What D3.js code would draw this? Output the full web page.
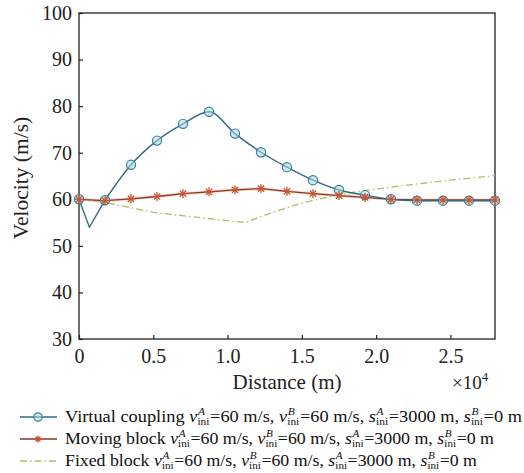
<!DOCTYPE html>
<html><head><meta charset="utf-8">
<script src="https://cdn.jsdelivr.net/npm/d3@7"></script>
<style>body{margin:0;background:#fff}svg{display:block}</style>
</head><body>
<svg id="chart" width="524" height="473"></svg>
<script>
// ---- data ----
const markerDist = [0,1750,3500,5250,7000,8750,10500,12250,14000,15750,17500,19250,21000,22750,24500,26250,28000];
const vcDist = [0,700,1750,3500,5250,7000,8750,10500,12250,14000,15750,17500,19250,21000,22750,24500,26250,28000];
const vcVel  = [60,54.0,59.8,67.4,72.6,76.2,78.8,74.1,70.1,66.9,64.1,62.0,60.9,60.0,59.7,59.7,59.7,59.7];
const vcMarkers = [60,59.8,67.4,72.6,76.2,78.8,74.1,70.1,66.9,64.1,62.0,60.9,60.0,59.7,59.7,59.7,59.7];
const mbVel  = [60,59.7,60.1,60.6,61.2,61.6,62.0,62.3,61.7,61.2,60.8,60.4,60.0,59.85,59.85,59.85,59.85];
const fbDist = [0,1750,5000,10000,11200,12500,15000,17500,19250,21000,23300,25000,28000];
const fbVel  = [60,59.3,57.2,55.4,55.0,56.6,59.2,61.0,61.9,62.6,63.5,64.1,65.1];
const xTicks = [0,5000,10000,15000,20000,25000];
const xTickLabels = ["0","0.5","1.0","1.5","2.0","2.5"];
const yTicks = [30,40,50,60,70,80,90,100];
const legendNames = ["Virtual coupling ","Moving block ","Fixed block "];

// ---- layout ----
const svg = d3.select("#chart");
const L=79, R=495, T=13, B=339;
const x = d3.scaleLinear().domain([0,28000]).range([L,R]);
const y = d3.scaleLinear().domain([30,100]).range([B,T]);
const font = "'Liberation Serif', serif";
const axisCol = "#222";

svg.append("rect").attr("x",L).attr("y",T).attr("width",R-L).attr("height",B-T)
  .attr("fill","none").attr("stroke",axisCol).attr("stroke-width",1.3);

const xAxis = d3.axisBottom(x).tickValues(xTicks).tickSize(-4).tickPadding(10)
  .tickFormat((d,i)=>xTickLabels[i]);
const gx = svg.append("g").attr("transform",`translate(0,${B})`).call(xAxis);
const yAxis = d3.axisLeft(y).tickValues(yTicks).tickSize(-4).tickPadding(7);
const gy = svg.append("g").attr("transform",`translate(${L},0)`).call(yAxis);
[gx,gy].forEach(g=>{
  g.attr("font-family",font).attr("font-size",20);
  g.select(".domain").remove();
  g.selectAll("line").attr("stroke",axisCol).attr("stroke-width",1.2);
  g.selectAll("text").style("font-family",font).style("font-size","20px").attr("fill","#222");
});

svg.append("text").attr("x",(L+R)/2).attr("y",389).attr("text-anchor","middle")
  .style("font-family",font).style("font-size","21px").attr("fill","#222").text("Distance (m)");
const ex = svg.append("text").attr("x",452).attr("y",389)
  .style("font-family",font).style("font-size","19px").attr("fill","#222");
ex.append("tspan").text("×10");
ex.append("tspan").attr("dy",-8).style("font-size","13px").text("4");
svg.append("text").attr("transform",`translate(28,${(T+B)/2+2}) rotate(-90)`)
  .attr("text-anchor","middle").style("font-family",font).style("font-size","21.5px").attr("fill","#222")
  .text("Velocity (m/s)");

// ---- series ----
const vcLine="#2f6c82", vcFill="#a9d6e3", vcStroke="#3b7f96";
const mbLine="#86392a", mbMark="#c9532f";
const fbLine="#b9b86a";

const lineGen = d3.line().x(d=>x(d[0])).y(d=>y(d[1]));
const plot = svg.append("g");

plot.append("path").datum(fbDist.map((d,i)=>[d,fbVel[i]]))
  .attr("d",lineGen.curve(d3.curveLinear)).attr("fill","none")
  .attr("stroke",fbLine).attr("stroke-width",1.3).attr("stroke-dasharray","7,3,1.5,3");

const mbPts = markerDist.map((d,i)=>[d,mbVel[i]]);
plot.append("path").datum(mbPts)
  .attr("d",lineGen.curve(d3.curveLinear)).attr("fill","none")
  .attr("stroke","#f3b79b").attr("stroke-width",3).attr("opacity",0.6);
plot.append("path").datum(mbPts)
  .attr("d",lineGen.curve(d3.curveLinear)).attr("fill","none")
  .attr("stroke",mbLine).attr("stroke-width",1.3);

const vcPts = vcDist.map((d,i)=>[d,vcVel[i]]);
plot.append("path").datum(vcPts.slice(0,3))
  .attr("d",lineGen.curve(d3.curveLinear)).attr("fill","none")
  .attr("stroke",vcLine).attr("stroke-width",1.4);
plot.append("path").datum(vcPts.slice(2))
  .attr("d",lineGen.curve(d3.curveMonotoneX)).attr("fill","none")
  .attr("stroke",vcLine).attr("stroke-width",1.4);
plot.selectAll(".vcm").data(markerDist.map((d,i)=>[d,vcMarkers[i]])).join("circle")
  .attr("cx",d=>x(d[0])).attr("cy",d=>y(d[1])).attr("r",4.6)
  .attr("fill",vcFill).attr("fill-opacity",0.55).attr("stroke",vcStroke).attr("stroke-width",1.2);

function drawStar(g,cx,cy,sz){
  const s = sz/2;
  [[ -s,0,s,0],[0,-s,0,s],[-s*0.7,-s*0.7,s*0.7,s*0.7],[-s*0.7,s*0.7,s*0.7,-s*0.7]].forEach(l=>{
    g.append("line").attr("x1",cx+l[0]).attr("y1",cy+l[1]).attr("x2",cx+l[2]).attr("y2",cy+l[3])
      .attr("stroke",mbMark).attr("stroke-width",1.3);
  });
}
const starG = plot.append("g");
markerDist.forEach((d,i)=>drawStar(starG,x(d),y(mbVel[i]),9));

// ---- legend ----
const legY = [417,439,461];
const legEnd = [522,494,477];
const TX = 65;
const lg = svg.append("g");
legY.forEach((ly,i)=>{
  if(i===0){
    lg.append("line").attr("x1",20).attr("x2",57).attr("y1",ly).attr("y2",ly).attr("stroke",vcLine).attr("stroke-width",1.4);
    lg.append("circle").attr("cx",38).attr("cy",ly).attr("r",4.2).attr("fill",vcFill).attr("fill-opacity",0.55).attr("stroke",vcStroke).attr("stroke-width",1.2);
  } else if(i===1){
    lg.append("line").attr("x1",20).attr("x2",57).attr("y1",ly).attr("y2",ly).attr("stroke",mbLine).attr("stroke-width",1.3);
    drawStar(lg,38,ly,7);
  } else {
    lg.append("line").attr("x1",20).attr("x2",57).attr("y1",ly).attr("y2",ly).attr("stroke",fbLine).attr("stroke-width",1.3).attr("stroke-dasharray","7,3,1.5,3");
  }
  const row = lg.append("g");
  const base = ly+5;
  let cx = TX;
  const segs = [
    {t:legendNames[i]},{t:"v",it:true},{st:["A","ini"]},{t:"=60 m/s, "},
    {t:"v",it:true},{st:["B","ini"]},{t:"=60 m/s, "},
    {t:"s",it:true},{st:["A","ini"]},{t:"=3000 m, "},
    {t:"s",it:true},{st:["B","ini"]},{t:"=0 m"}
  ];
  segs.forEach(s=>{
    if(s.t!==undefined){
      const t = row.append("text").attr("x",cx).attr("y",base).style("font-family",font)
        .style("font-size","16px").attr("fill","#111").style("font-style",s.it?"italic":"normal")
        .style("white-space","pre").text(s.t);
      cx += t.node().getComputedTextLength();
    } else {
      const a = row.append("text").attr("x",cx+0.5).attr("y",base-7).style("font-family",font)
        .style("font-size","10px").style("font-style","italic").attr("fill","#111").text(s.st[0]);
      const b = row.append("text").attr("x",cx).attr("y",base+3).style("font-family",font)
        .style("font-size","10px").attr("fill","#111").text(s.st[1]);
      cx += Math.max(a.node().getComputedTextLength(), b.node().getComputedTextLength()) + 0.5;
    }
  });
  const k = (legEnd[i]-TX)/(cx-TX);
  row.attr("transform",`translate(${TX},0) scale(${k},1) translate(${-TX},0)`);
});
</script>
</body></html>
